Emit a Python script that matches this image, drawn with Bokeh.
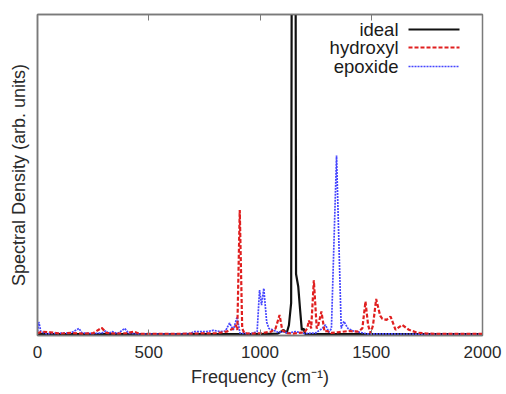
from bokeh.plotting import figure
from bokeh.models import LinearAxis, FixedTicker, Range1d, Label, Arrow
from bokeh.embed import file_html
from bokeh.resources import INLINE

# ---- data ----
ideal_f = [0, 1000, 1080, 1106, 1120, 1130, 1140, 1152, 1162, 1172, 1180, 1188, 1196, 1203, 1215, 2000]
ideal_v = [0.002, 0.002, 0.004, 0.015, 0.006, 0.03, 0.1, 5.0, 0.19, 0.15, 0.08, 0.015, 0.02, 0.003, 0.002, 0.002]

hyd_f = [0, 20, 58, 100, 150, 200, 250, 288, 310, 350, 400, 433, 460, 500, 600, 700, 800, 850,
         880, 892, 898, 909, 920, 930, 960, 1000, 1050, 1070, 1088, 1100, 1120, 1150, 1200, 1212,
         1220, 1230, 1242, 1255, 1262, 1276, 1290, 1302, 1320, 1350, 1400, 1440, 1460, 1474, 1486,
         1497, 1508, 1522, 1540, 1550, 1569, 1587, 1609, 1639, 1669, 1706, 1750, 1800, 2000]
hyd_v = [0.005, 0.01, 0.008, 0.004, 0.006, 0.004, 0.005, 0.022, 0.006, 0.004, 0.005, 0.01, 0.003,
         0.003, 0.003, 0.004, 0.005, 0.01, 0.02, 0.03, 0.015, 0.39, 0.02, 0.005, 0.004, 0.005, 0.01,
         0.02, 0.062, 0.015, 0.005, 0.004, 0.008, 0.02, 0.045, 0.02, 0.17, 0.02, 0.03, 0.073, 0.01,
         0.012, 0.006, 0.008, 0.012, 0.01, 0.02, 0.104, 0.03, 0.005, 0.03, 0.112, 0.06, 0.05, 0.047,
         0.057, 0.016, 0.031, 0.016, 0.007, 0.004, 0.003, 0.003]

epo_f = [0, 6, 15, 40, 100, 150, 186, 200, 250, 290, 306, 320, 336, 360, 392, 410, 450, 600, 690,
         700, 760, 790, 823, 845, 863, 880, 897, 910, 960, 987, 998, 1007, 1017, 1030, 1040, 1060,
         1080, 1100, 1130, 1160, 1200, 1250, 1280, 1294, 1310, 1321, 1344, 1365, 1377, 1395, 1420,
         1450, 1480, 2000]
epo_v = [0.01, 0.04, 0.01, 0.004, 0.005, 0.006, 0.02, 0.006, 0.004, 0.006, 0.012, 0.005, 0.01,
         0.004, 0.02, 0.005, 0.003, 0.003, 0.004, 0.01, 0.01, 0.014, 0.01, 0.012, 0.037, 0.015,
         0.056, 0.005, 0.004, 0.01, 0.14, 0.093, 0.145, 0.04, 0.02, 0.015, 0.008, 0.01, 0.006, 0.01,
         0.004, 0.006, 0.02, 0.031, 0.008, 0.02, 0.56, 0.02, 0.042, 0.02, 0.012, 0.008, 0.003, 0.002]

x_ticks = [0, 500, 1000, 1500, 2000]
series_names = ["ideal", "hydroxyl", "epoxide"]

FONT = "Liberation Sans"
AX = "#7a7a7a"
TXT = "#2a2a2a"

p = figure(width=506, height=394, output_backend="svg", toolbar_location=None,
           x_range=Range1d(0, 2000), y_range=Range1d(-0.002, 1.0),
           min_border_left=37, min_border_right=24, min_border_top=14, min_border_bottom=59,
           x_axis_label="Frequency (cm\u207b\u00b9)", y_axis_label="Spectral Density (arb. units)")
p.xgrid.visible = False
p.ygrid.visible = False
p.outline_line_color = AX
p.outline_line_width = 1.5
p.background_fill_color = "white"
p.border_fill_color = "white"

xa = p.xaxis[0]
xa.ticker = FixedTicker(ticks=x_ticks)
xa.minor_tick_line_color = None
xa.major_tick_in = 6
xa.major_tick_out = 0
xa.major_tick_line_color = AX
xa.axis_line_color = AX
xa.axis_line_width = 1.5
xa.major_label_text_font = FONT
xa.major_label_text_font_size = "17px"
xa.major_label_text_color = TXT
xa.major_label_standoff = 10
xa.axis_label_text_font = FONT
xa.axis_label_text_font_size = "18px"
xa.axis_label_text_font_style = "normal"
xa.axis_label_text_color = TXT
xa.axis_label_standoff = 6

ya = p.yaxis[0]
ya.ticker = FixedTicker(ticks=[])
ya.minor_tick_line_color = None
ya.major_tick_line_color = None
ya.major_label_text_color = None
ya.axis_line_color = AX
ya.axis_line_width = 1.5
ya.axis_label_text_font = FONT
ya.axis_label_text_font_size = "18px"
ya.axis_label_text_font_style = "normal"
ya.axis_label_text_color = TXT
ya.axis_label_standoff = 9

top = LinearAxis(ticker=FixedTicker(ticks=x_ticks), major_tick_in=6, major_tick_out=0,
                 major_tick_line_color=AX, minor_tick_line_color=None,
                 axis_line_color=AX, axis_line_width=1.5,
                 major_label_text_color=None, major_label_text_font_size="1px",
                 major_label_standoff=0)
p.add_layout(top, "above")

colors = ["#111111", "#e01f1f", "#4646ff"]
dashes = ["solid", "4 2", "2 1"]
widths = [2.2, 2.2, 1.7]

p.line(ideal_f, ideal_v, line_color=colors[0], line_width=widths[0])
p.line(epo_f, epo_v, line_color=colors[2], line_width=widths[2], line_dash=dashes[2])
p.line(hyd_f, hyd_v, line_color=colors[1], line_width=widths[1], line_dash=dashes[1])

# gnuplot-style key: text right-aligned, sample line to its right (screen units from frame)
row_y = [306, 288, 269]
for name, c, d, w, yy in zip(series_names, colors, dashes, widths, row_y):
    p.add_layout(Label(x=361, y=yy, x_units="screen", y_units="screen", text=name,
                       text_align="right", text_baseline="middle", text_font=FONT,
                       text_font_size="18.5px", text_color="#1a1a1a"))
    p.add_layout(Arrow(end=None, x_start=371, y_start=yy, x_end=422, y_end=yy,
                       start_units="screen", end_units="screen",
                       line_color=c, line_width=w, line_dash=d))

open("out.html", "w").write(file_html(p, INLINE))
